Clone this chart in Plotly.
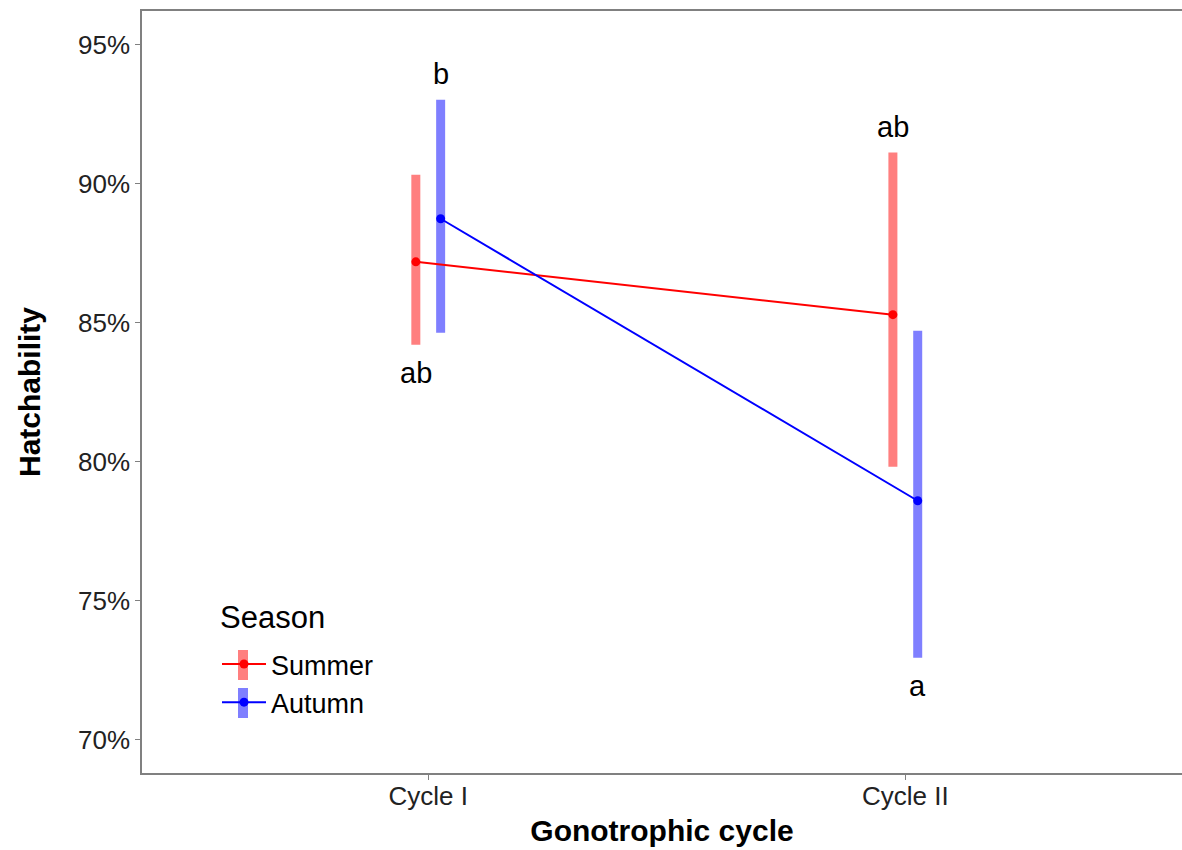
import plotly.graph_objects as go

# ---- data ----
cycles = ["Cycle I", "Cycle II"]
seasons = ["Summer", "Autumn"]
summer_mean = [87.19, 85.29]
summer_low = [84.21, 79.82]
summer_high = [90.32, 91.12]
autumn_mean = [88.74, 78.60]
autumn_low = [84.64, 72.95]
autumn_high = [93.02, 84.71]
summer_letters = ["ab", "ab"]
autumn_letters = ["b", "a"]
y_ticks = [70, 75, 80, 85, 90, 95]
legend_title = "Season"

W, H = 1182, 850
ML, MR, MT, MB = 142, 0, 11, 77
FONT = "Liberation Sans, Arial, sans-serif"

dodge = 0.026
xs_sum = [i + 1 - dodge for i in range(len(cycles))]
xs_aut = [i + 1 + dodge for i in range(len(cycles))]

line_cols = {"Summer": "#FF0000", "Autumn": "#0000FF"}
bar_cols = {"Summer": "rgba(255,0,0,0.5)", "Autumn": "rgba(0,0,255,0.5)"}

fig = go.Figure()

series = [
    ("Summer", xs_sum, summer_mean, summer_low, summer_high, summer_letters, [-1, 1]),
    ("Autumn", xs_aut, autumn_mean, autumn_low, autumn_high, autumn_letters, [1, -1]),
]

# error bars (thick translucent)
for name, xs, m, lo, hi, _, _ in series:
    fig.add_trace(go.Scatter(
        x=xs, y=m, mode="markers", marker=dict(size=1, opacity=0),
        error_y=dict(type="data", symmetric=False,
                     array=[h - v for h, v in zip(hi, m)],
                     arrayminus=[v - l for v, l in zip(m, lo)],
                     color=bar_cols[name], thickness=9, width=0),
        showlegend=False, hoverinfo="skip"))

# lines + points
for name, xs, m, lo, hi, _, _ in series:
    fig.add_trace(go.Scatter(
        x=xs, y=m, mode="lines+markers", name=name,
        line=dict(color=line_cols[name], width=2),
        marker=dict(color=line_cols[name], size=9),
        legendgroup=name))

# significance letters
for name, xs, m, lo, hi, letters, sides in series:
    for x, l, h, lab, s in zip(xs, lo, hi, letters, sides):
        if s > 0:
            fig.add_annotation(x=x, y=h, text=lab, showarrow=False, yshift=26,
                               font=dict(size=29, color="black", family=FONT))
        else:
            fig.add_annotation(x=x, y=l, text=lab, showarrow=False, yshift=-28,
                               font=dict(size=29, color="black", family=FONT))

pw = W - ML - MR
ph = H - MT - MB

def px_x(p):
    return (p - ML) / pw

def px_y(p):
    return (H - MB - p) / ph

# legend title
fig.add_annotation(xref="paper", yref="paper", x=px_x(218), y=px_y(617),
                   xanchor="left", yanchor="middle", showarrow=False,
                   text=legend_title, font=dict(size=31, color="black", family=FONT))

# translucent bars behind legend keys
for yc, name in [(665, "Summer"), (703, "Autumn")]:
    fig.add_shape(type="rect", xref="paper", yref="paper",
                  x0=px_x(238), x1=px_x(248), y0=px_y(yc + 15), y1=px_y(yc - 15),
                  fillcolor=bar_cols[name], line=dict(width=0), layer="below")

fig.update_layout(
    width=W, height=H,
    margin=dict(l=ML, r=MR, t=MT, b=MB),
    plot_bgcolor="white", paper_bgcolor="white",
    font=dict(family=FONT, color="black"),
    showlegend=True,
    legend=dict(
        font=dict(size=27, color="black", family=FONT),
        x=px_x(217), y=px_y(640), xanchor="left", yanchor="top",
        bgcolor="rgba(0,0,0,0)", tracegroupgap=0, traceorder="grouped",
        itemwidth=44,
    ),
    xaxis=dict(
        range=[0.4, 2.58], tickvals=[1, 2], ticktext=cycles,
        showgrid=False, zeroline=False,
        showline=True, linecolor="#808080", linewidth=1.5, mirror=True,
        ticks="outside", ticklen=5, tickcolor="#808080", tickwidth=1.3,
        ticklabelstandoff=-6,
        tickfont=dict(size=26, color="#222222", family=FONT),
        title=dict(text="<b>Gonotrophic cycle</b>", font=dict(size=30, color="black", family=FONT), standoff=10),
    ),
    yaxis=dict(
        range=[68.81, 96.21], tickvals=y_ticks, ticktext=[f"{v}%" for v in y_ticks],
        showgrid=False, zeroline=False,
        showline=True, linecolor="#808080", linewidth=1.5,
        ticks="outside", ticklen=5, tickcolor="#808080", tickwidth=1.3,
        tickfont=dict(size=26, color="#222222", family=FONT),
        title=dict(text="<b>Hatchability</b>", font=dict(size=30, color="black", family=FONT), standoff=29),
    ),
)

fig.write_html("out.html")
